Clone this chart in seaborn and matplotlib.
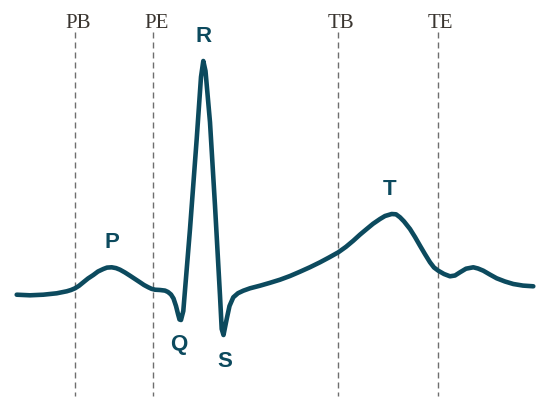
import matplotlib
matplotlib.use("Agg")
import matplotlib.pyplot as plt
import seaborn as sns
import pandas as pd

# ECG trace (t: horizontal units, py: vertical picture units, down positive)
t = [16.7, 30, 43.3, 56.7, 66.7, 71, 75, 79, 83.3, 88, 93.3, 98, 103.3, 107, 111.7,
     116, 120, 125, 130, 135, 140, 144, 148.3, 151.5, 155, 160, 165, 168, 171, 173.5,
     176, 178, 179.5, 181, 183.3, 190, 196.7, 201, 203.3, 205.5, 210, 215, 220,
     221.7, 223.5, 226.7, 229.5, 233.3, 238, 243.3, 250, 260, 270, 280, 290, 300,
     310, 320, 329, 338.3, 346, 353.3, 360, 366.7, 373, 380, 385, 391.7, 396, 400,
     404, 410, 415, 420, 425, 430, 434, 438.3, 444, 450, 455, 460, 466, 473.3, 478,
     483.3, 490, 496.7, 505, 513.3, 523, 533.3]
py = [295.7, 296.3, 295.7, 294.3, 292.3, 291, 289.3, 286.8, 283.3, 279.5, 276, 272.5,
      270, 268.6, 268.3, 269.1, 270.7, 273.5, 276.7, 280, 283.3, 286, 288.3, 289.8,
      290.7, 291, 291.6, 293, 295.5, 299.5, 307, 315, 320.5, 321, 312, 230, 140, 78,
      62, 72, 123.3, 206.7, 296.7, 330, 336, 320, 307, 298.3, 294.2, 291.7, 289.3,
      286.7, 283.8, 280.7, 277, 272.7, 268.2, 263.3, 258.5, 253.3, 247.8, 241.7, 235.6,
      230, 224.8, 220, 217, 215, 215.3, 218.3, 222.4, 230, 238, 246.7, 255.2, 263.3,
      268.5, 271.7, 275, 277.3, 276.5, 273.3, 269.7, 268.3, 269.5, 271.7, 275.6, 279.3,
      282.5, 285, 286.6, 287.3]
BASE = 296
amp = [BASE - v for v in py]

# Interval boundaries
bound_names = ["PB", "PE", "TB", "TE"]
bound_t = [75, 153.3, 337.8, 437.5]

# Wave labels
wave_names = ["P", "Q", "R", "S", "T"]
wave_t = [112, 179, 204, 225, 390]
wave_amp = [BASE - 243, BASE - 345, BASE - 36, BASE - 362, BASE - 190]

CURVE = "#0c4a5e"

sns.set_theme(style="white")
plt.rcParams["lines.scale_dashes"] = False

fig = plt.figure(figsize=(5.5, 4.1), dpi=100)
ax = fig.add_axes([0, 0, 1, 1])

df = pd.DataFrame({"t": t, "amp": amp})
sns.lineplot(data=df, x="t", y="amp", sort=False, estimator=None, ax=ax,
             color=CURVE, linewidth=3.3, solid_joinstyle="round",
             solid_capstyle="round")

for name, x in zip(bound_names, bound_t):
    ax.plot([x, x], [BASE - 33, BASE - 397], color="#6e6e6e", linewidth=1.0,
            linestyle=(0, (4.3, 2.9)), zorder=1)
    ax.text(x + 3, BASE - 23, name, ha="center", va="center", fontsize=15,
            family="Liberation Serif", color="#3a3530")

for name, x, y in zip(wave_names, wave_t, wave_amp):
    ax.text(x, y, name, ha="center", va="center", fontsize=16,
            family="Liberation Sans", fontweight="bold", color=CURVE)

ax.set_xlim(0, 550)
ax.set_ylim(BASE - 410, BASE)
ax.axis("off")
fig.savefig("out.png", dpi=100)
